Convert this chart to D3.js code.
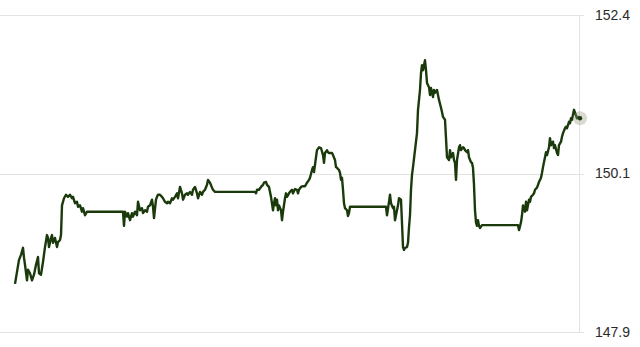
<!DOCTYPE html>
<html>
<head>
<meta charset="utf-8">
<script src="https://cdn.jsdelivr.net/npm/d3@7"></script>
<style>
  body { margin: 0; background: #fff; }
  svg { display: block; font-family: "Liberation Sans", Arial, sans-serif; }
</style>
</head>
<body>
<script>
// minutes from start of the window (closed-market stretches show as flat lines)
const minutes = [
  0, 2, 4, 6, 8, 9, 10, 12, 13, 15, 17, 19, 21, 23, 24, 26, 28, 30, 32, 33,
  34, 36, 37, 38, 40, 42, 43, 45, 46, 47, 49, 51, 53, 55, 57, 58, 60, 62, 63, 65,
  67, 68, 70, 72, 107, 108, 109, 110, 112, 113, 115, 117, 118, 120, 122, 123, 125, 127, 128, 130,
  132, 133, 135, 137, 138, 139, 141, 142, 143, 145, 147, 148, 150, 152, 153, 155, 157, 158, 160, 162,
  163, 165, 167, 168, 170, 172, 173, 175, 177, 178, 180, 182, 183, 185, 187, 188, 190, 192, 193, 195,
  197, 198, 200, 202, 240, 241, 242, 244, 246, 248, 249, 251, 252, 254, 255, 256, 258, 259, 260, 261,
  262, 263, 264, 266, 267, 268, 270, 271, 272, 274, 275, 277, 278, 280, 282, 283, 284, 286, 288, 290,
  292, 294, 295, 297, 298, 299, 301, 302, 304, 306, 308, 309, 310, 312, 313, 314, 316, 317, 318, 320,
  321, 322, 324, 325, 326, 327, 328, 329, 330, 332, 333, 334, 335, 371, 372, 374, 375, 376, 378, 379,
  380, 382, 383, 384, 386, 387, 388, 389, 390, 392, 393, 394, 395, 396, 397, 398, 400, 402, 403, 405,
  406, 407, 408, 410, 411, 412, 414, 415, 416, 418, 419, 420, 422, 423, 424, 426, 427, 428, 430, 431,
  432, 434, 435, 436, 438, 439, 440, 441, 442, 444, 445, 446, 448, 449, 450, 452, 453, 454, 456, 457,
  458, 459, 460, 461, 462, 463, 464, 465, 467, 503, 504, 506, 507, 508, 510, 511, 512, 514, 515, 516,
  518, 519, 520, 522, 523, 524, 526, 527, 528, 530, 531, 532, 534, 535, 536, 538, 539, 540, 542, 543,
  544, 546, 547, 548, 550, 551, 552, 554, 555, 556, 557, 559, 560, 562, 563, 564
];

const prices = [
  148.56, 148.73, 148.90, 148.97, 149.07, 148.93, 148.83, 148.61, 148.76, 148.71, 148.61, 148.69, 148.83, 148.94, 148.71, 148.69, 148.87, 149.08, 149.25, 149.21,
  149.08, 149.21, 149.25, 149.14, 149.21, 149.08, 149.15, 149.18, 149.25, 149.67, 149.77, 149.82, 149.79, 149.82, 149.77, 149.79, 149.70, 149.72, 149.65, 149.67,
  149.58, 149.63, 149.53, 149.58, 149.58, 149.58, 149.38, 149.58, 149.51, 149.56, 149.46, 149.56, 149.51, 149.58, 149.53, 149.72, 149.60, 149.63, 149.56, 149.60,
  149.58, 149.65, 149.67, 149.75, 149.65, 149.49, 149.75, 149.79, 149.82, 149.82, 149.79, 149.77, 149.72, 149.70, 149.72, 149.70, 149.77, 149.75, 149.79, 149.84,
  149.77, 149.93, 149.84, 149.75, 149.82, 149.84, 149.82, 149.86, 149.82, 149.89, 149.93, 149.84, 149.77, 149.86, 149.82, 149.86, 149.89, 149.96, 150.03, 149.99,
  149.92, 149.89, 149.86, 149.86, 149.86, 149.84, 149.89, 149.89, 149.93, 149.96, 149.99, 150.00, 149.96, 149.93, 149.86, 149.79, 149.60, 149.70, 149.77, 149.67,
  149.75, 149.60, 149.67, 149.60, 149.46, 149.58, 149.77, 149.84, 149.79, 149.84, 149.86, 149.89, 149.84, 149.90, 149.89, 149.84, 149.89, 149.93, 149.94, 149.94,
  149.99, 150.03, 150.06, 150.17, 150.21, 150.14, 150.35, 150.45, 150.49, 150.48, 150.38, 150.27, 150.41, 150.45, 150.42, 150.41, 150.41, 150.41, 150.38, 150.31,
  150.21, 150.20, 150.17, 150.13, 150.03, 150.06, 149.89, 149.70, 149.63, 149.60, 149.52, 149.56, 149.65, 149.65, 149.53, 149.72, 149.82, 149.70, 149.63, 149.65,
  149.46, 149.60, 149.67, 149.77, 149.75, 149.42, 149.08, 149.04, 149.07, 149.08, 149.14, 149.36, 149.53, 149.89, 150.10, 150.21, 150.45, 150.69, 151.02, 151.30,
  151.54, 151.65, 151.58, 151.72, 151.58, 151.40, 151.34, 151.23, 151.33, 151.20, 151.30, 151.26, 151.30, 151.23, 151.16, 151.05, 150.99, 150.92, 150.88, 150.62,
  150.35, 150.31, 150.45, 150.35, 150.41, 150.31, 150.27, 150.03, 150.31, 150.49, 150.52, 150.45, 150.49, 150.48, 150.45, 150.42, 150.45, 150.35, 150.28, 150.27,
  150.20, 149.96, 149.60, 149.43, 149.38, 149.46, 149.38, 149.35, 149.39, 149.39, 149.32, 149.43, 149.53, 149.67, 149.58, 149.72, 149.60, 149.75, 149.72, 149.79,
  149.82, 149.84, 149.89, 149.92, 149.96, 150.00, 150.06, 150.13, 150.21, 150.35, 150.42, 150.38, 150.49, 150.62, 150.52, 150.57, 150.48, 150.52, 150.41, 150.38,
  150.52, 150.57, 150.64, 150.69, 150.76, 150.78, 150.76, 150.85, 150.83, 150.90, 150.88, 151.02, 150.98, 150.90, 150.92, 150.90
];

const yDomain = [147.88, 152.36];
const yTickValues = [147.88, 150.12, 152.36];

const w = 640;
const h = 347;

const data = minutes.map((m, i) => ({ t: m, v: prices[i] }));

const x = d3.scaleLinear()
  .domain([0, d3.max(minutes)])
  .range([15, 579]);

const y = d3.scaleLinear()
  .domain(yDomain)
  .range([332, 15]);

const svg = d3.select('body')
  .append('svg')
  .attr('width', w)
  .attr('height', h);

// horizontal grid
svg.append('g')
  .selectAll('line')
  .data(yTickValues)
  .enter()
  .append('line')
  .attr('x1', 0)
  .attr('x2', 584)
  .attr('y1', d => Math.round(y(d)) + 0.5)
  .attr('y2', d => Math.round(y(d)) + 0.5)
  .attr('stroke', '#e3e3e3')
  .attr('stroke-width', 1);

// vertical line at the latest point
svg.append('line')
  .attr('x1', x(d3.max(minutes)) + 0.5)
  .attr('x2', x(d3.max(minutes)) + 0.5)
  .attr('y1', y(yDomain[1]))
  .attr('y2', y(yDomain[0]))
  .attr('stroke', '#e3e3e3')
  .attr('stroke-width', 1);

// right axis labels
const yAxis = d3.axisRight(y)
  .tickValues(yTickValues)
  .tickFormat(d3.format('.1f'))
  .tickSize(0)
  .tickPadding(0);

svg.append('g')
  .attr('transform', 'translate(595,0)')
  .call(yAxis)
  .call(g => g.select('.domain').remove())
  .call(g => g.selectAll('text')
    .attr('fill', '#2a2a2a')
    .attr('font-size', 14)
    .attr('font-family', '"Liberation Sans", Arial, sans-serif'));

// price line
const line = d3.line()
  .x(d => x(d.t))
  .y(d => y(d.v));

svg.append('path')
  .datum(data)
  .attr('fill', 'none')
  .attr('stroke', '#1b3a0c')
  .attr('stroke-width', 2.4)
  .attr('stroke-linejoin', 'round')
  .attr('d', line);

// end marker
const last = data[data.length - 1];
svg.append('circle')
  .attr('cx', x(last.t) + 1)
  .attr('cy', y(last.v))
  .attr('r', 7)
  .attr('fill', 'rgba(150,150,130,0.35)');
svg.append('circle')
  .attr('cx', x(last.t) + 1)
  .attr('cy', y(last.v))
  .attr('r', 2.2)
  .attr('fill', '#1b3a0c');
</script>
</body>
</html>
